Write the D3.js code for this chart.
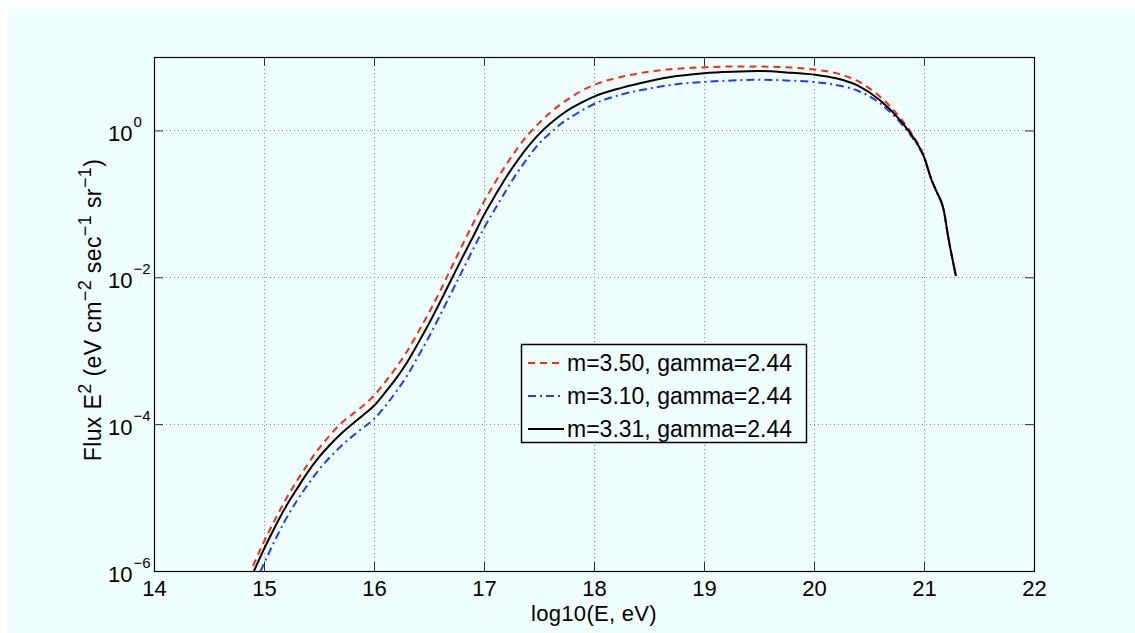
<!DOCTYPE html>
<html>
<head>
<meta charset="utf-8">
<script src="https://cdn.jsdelivr.net/npm/d3@7"></script>
<style>
  body { margin: 0; background: #fff; }
  text { font-family: "Liberation Sans", Arial, Helvetica, sans-serif; fill: #000; }
</style>
</head>
<body>
<div id="chart"></div>
<script>
// log10(E, eV) sample points shared by the three curves
const energy = [
  14.9, 15.0, 15.1, 15.2, 15.3, 15.4, 15.5, 15.6, 15.7, 15.8, 15.9,
  16.0, 16.1, 16.2, 16.3, 16.4, 16.5, 16.6, 16.7, 16.8, 16.9,
  17.0, 17.1, 17.2, 17.3, 17.4, 17.5, 17.6, 17.7, 17.8, 17.9,
  18.0, 18.25, 18.5, 18.75, 19.0, 19.25, 19.5, 19.75, 20.0, 20.2, 20.4,
  20.6, 20.8, 20.9, 21.0, 21.07, 21.11, 21.18, 21.22, 21.29
];

// log10 of flux E^2
const logFluxM350 = [
  -5.93, -5.60, -5.30, -5.02, -4.77, -4.54, -4.33, -4.15, -3.99, -3.87, -3.75,
  -3.61, -3.43, -3.23, -3.01, -2.75, -2.48, -2.19, -1.88, -1.57, -1.27,
  -0.97, -0.71, -0.47, -0.25, -0.06, 0.10, 0.24, 0.36, 0.46, 0.55,
  0.62, 0.73, 0.80, 0.84, 0.86, 0.87, 0.87, 0.86, 0.83, 0.78, 0.67,
  0.46, 0.14, -0.07, -0.35, -0.68, -0.82, -1.09, -1.45, -1.98
];
const logFluxM310 = [
  -6.23, -5.90, -5.58, -5.29, -5.04, -4.82, -4.62, -4.45, -4.30, -4.17, -4.05,
  -3.93, -3.76, -3.56, -3.34, -3.08, -2.81, -2.52, -2.22, -1.92, -1.62,
  -1.33, -1.07, -0.82, -0.58, -0.37, -0.18, -0.04, 0.09, 0.19, 0.28,
  0.36, 0.49, 0.57, 0.63, 0.66, 0.68, 0.69, 0.68, 0.66, 0.62, 0.54,
  0.37, 0.08, -0.11, -0.37, -0.68, -0.82, -1.09, -1.45, -1.98
];
const logFluxM331 = [
  -6.03, -5.70, -5.40, -5.12, -4.88, -4.65, -4.45, -4.28, -4.13, -4.00, -3.88,
  -3.75, -3.57, -3.38, -3.16, -2.90, -2.63, -2.34, -2.04, -1.74, -1.45,
  -1.15, -0.89, -0.64, -0.42, -0.22, -0.05, 0.09, 0.21, 0.31, 0.39,
  0.46, 0.58, 0.67, 0.74, 0.78, 0.80, 0.81, 0.79, 0.76, 0.71, 0.61,
  0.41, 0.11, -0.09, -0.36, -0.68, -0.82, -1.09, -1.45, -1.98
];

const seriesLabels = ["m=3.50, gamma=2.44", "m=3.10, gamma=2.44", "m=3.31, gamma=2.44"];
const xTicks = [14, 15, 16, 17, 18, 19, 20, 21, 22];
const yTickExponents = [-6, -4, -2, 0];

const series = [
  { label: seriesLabels[0], values: logFluxM350, color: "#ff2b10", dash: "7,5", width: 2 },
  { label: seriesLabels[1], values: logFluxM310, color: "#1f3cff", dash: "8,4,2,4", width: 2 },
  { label: seriesLabels[2], values: logFluxM331, color: "#000000", dash: null, width: 2 },
];

const bg = "#effefe";

let dimensions = {
  width: 1135,
  height: 633,
  margin: { top: 57, right: 101, bottom: 62, left: 154 },
};
dimensions.boundedWidth = dimensions.width - dimensions.margin.left - dimensions.margin.right;
dimensions.boundedHeight = dimensions.height - dimensions.margin.top - dimensions.margin.bottom;

const wrapper = d3.select("#chart")
  .append("svg")
  .attr("width", dimensions.width)
  .attr("height", dimensions.height);

// figure background
wrapper.append("rect")
  .attr("x", 7).attr("y", 9)
  .attr("width", dimensions.width - 7)
  .attr("height", dimensions.height - 9)
  .attr("fill", bg);

const bounds = wrapper.append("g")
  .attr("transform", `translate(${dimensions.margin.left},${dimensions.margin.top})`);

// scales
const xScale = d3.scaleLinear()
  .domain([14, 22])
  .range([0, dimensions.boundedWidth]);

const yScale = d3.scaleLog()
  .domain([1e-6, 1e1])
  .range([dimensions.boundedHeight, 0]);

// grid
const grid = bounds.append("g")
  .attr("stroke", "#8a8a8a")
  .attr("stroke-width", 1)
  .attr("stroke-dasharray", "1,3");

grid.selectAll(".vgrid")
  .data(xTicks.slice(1, -1))
  .join("line")
  .attr("x1", (d) => Math.round(xScale(d)) + 0.5)
  .attr("x2", (d) => Math.round(xScale(d)) + 0.5)
  .attr("y1", 0)
  .attr("y2", dimensions.boundedHeight);

grid.selectAll(".hgrid")
  .data(yTickExponents)
  .join("line")
  .attr("x1", 0)
  .attr("x2", dimensions.boundedWidth)
  .attr("y1", (d) => Math.round(yScale(Math.pow(10, d))) + 0.5)
  .attr("y2", (d) => Math.round(yScale(Math.pow(10, d))) + 0.5);

// curves
bounds.append("clipPath")
  .attr("id", "plot-clip")
  .append("rect")
  .attr("width", dimensions.boundedWidth)
  .attr("height", dimensions.boundedHeight);

const lineGenerator = (values) => d3.line()
  .x((d, i) => xScale(energy[i]))
  .y((d) => yScale(Math.pow(10, d)))
  .curve(d3.curveMonotoneX)(values);

bounds.append("g")
  .attr("clip-path", "url(#plot-clip)")
  .selectAll("path")
  .data(series)
  .join("path")
  .attr("d", (d) => lineGenerator(d.values))
  .attr("fill", "none")
  .attr("stroke", (d) => d.color)
  .attr("stroke-width", (d) => d.width)
  .attr("stroke-dasharray", (d) => d.dash)
  .attr("stroke-linejoin", "round");

// axes (MATLAB-style inward ticks on all four sides)
const tickLen = 9;

const xAxisBottom = bounds.append("g")
  .attr("transform", `translate(0,${dimensions.boundedHeight})`)
  .call(d3.axisBottom(xScale).tickValues(xTicks).tickSizeInner(-tickLen).tickSizeOuter(0).tickPadding(9));

const xAxisTop = bounds.append("g")
  .call(d3.axisTop(xScale).tickValues(xTicks).tickSizeInner(-tickLen).tickSizeOuter(0).tickFormat(""));

const yTickValues = yTickExponents.map((e) => Math.pow(10, e));

const yAxisLeft = bounds.append("g")
  .call(d3.axisLeft(yScale).tickValues(yTickValues).tickSizeInner(-tickLen).tickSizeOuter(0).tickFormat(""));

const yAxisRight = bounds.append("g")
  .attr("transform", `translate(${dimensions.boundedWidth},0)`)
  .call(d3.axisRight(yScale).tickValues(yTickValues).tickSizeInner(-tickLen).tickSizeOuter(0).tickFormat(""));

[xAxisBottom, xAxisTop, yAxisLeft, yAxisRight].forEach((ax) => {
  ax.select(".domain").remove();
  ax.selectAll(".tick line").attr("stroke", "#333");
});

xAxisBottom.selectAll(".tick text")
  .attr("font-size", 22)
  .attr("font-family", null)
  .attr("fill", "#000");

// y tick labels as 10^n, "10" left-aligned like MATLAB does it
yAxisLeft.selectAll(".tick text").remove();
yAxisLeft.selectAll(".tick")
  .append("text")
  .attr("x", -46)
  .attr("y", 10)
  .attr("text-anchor", "start")
  .attr("font-size", 22)
  .each(function (d) {
    const t = d3.select(this);
    const exp = Math.round(Math.log10(d));
    t.append("tspan").text("10");
    t.append("tspan")
      .attr("dx", 1)
      .attr("dy", -14)
      .attr("font-size", 15)
      .text(exp < 0 ? "\u2212" + Math.abs(exp) : String(exp));
  });

// axes box
bounds.append("rect")
  .attr("x", 0.5).attr("y", 0.5)
  .attr("width", dimensions.boundedWidth)
  .attr("height", dimensions.boundedHeight)
  .attr("fill", "none")
  .attr("stroke", "#000")
  .attr("stroke-width", 1.2);

// axis labels
bounds.append("text")
  .attr("x", 440)
  .attr("y", dimensions.boundedHeight + 49.5)
  .attr("text-anchor", "middle")
  .attr("font-size", 22)
  .attr("letter-spacing", 0.3)
  .text("log10(E, eV)");

const yLabel = wrapper.append("text")
  .attr("transform", "translate(101,310) rotate(-90)")
  .attr("text-anchor", "middle")
  .attr("font-size", 23)
  .attr("letter-spacing", 0.4);

const yLabelParts = [
  ["Flux E", 0], ["2", 1], [" (eV cm", 0], ["\u22122", 1], [" sec", 0],
  ["\u22121", 1], [" sr", 0], ["\u22121", 1], [")", 0],
];
let prevSup = 0;
yLabelParts.forEach(([txt, sup]) => {
  yLabel.append("tspan")
    .attr("dy", sup === prevSup ? 0 : (sup ? -10 : 10))
    .attr("font-size", sup ? 18 : 23)
    .text(txt);
  prevSup = sup;
});

// legend
const legend = wrapper.append("g")
  .attr("transform", "translate(521,344)");

legend.append("rect")
  .attr("x", 0.5).attr("y", 0.5)
  .attr("width", 285)
  .attr("height", 98)
  .attr("fill", bg)
  .attr("stroke", "#000")
  .attr("stroke-width", 1.5);

const legendItems = legend.selectAll(".item")
  .data(series)
  .join("g")
  .attr("transform", (d, i) => `translate(0,${19 + i * 33})`);

legendItems.append("line")
  .attr("x1", 7).attr("x2", 43)
  .attr("stroke", (d) => d.color)
  .attr("stroke-width", (d) => d.width)
  .attr("stroke-dasharray", (d) => d.dash);

legendItems.append("text")
  .attr("x", 46)
  .attr("y", 8)
  .attr("font-size", 23)
  .text((d) => d.label);
</script>
</body>
</html>
